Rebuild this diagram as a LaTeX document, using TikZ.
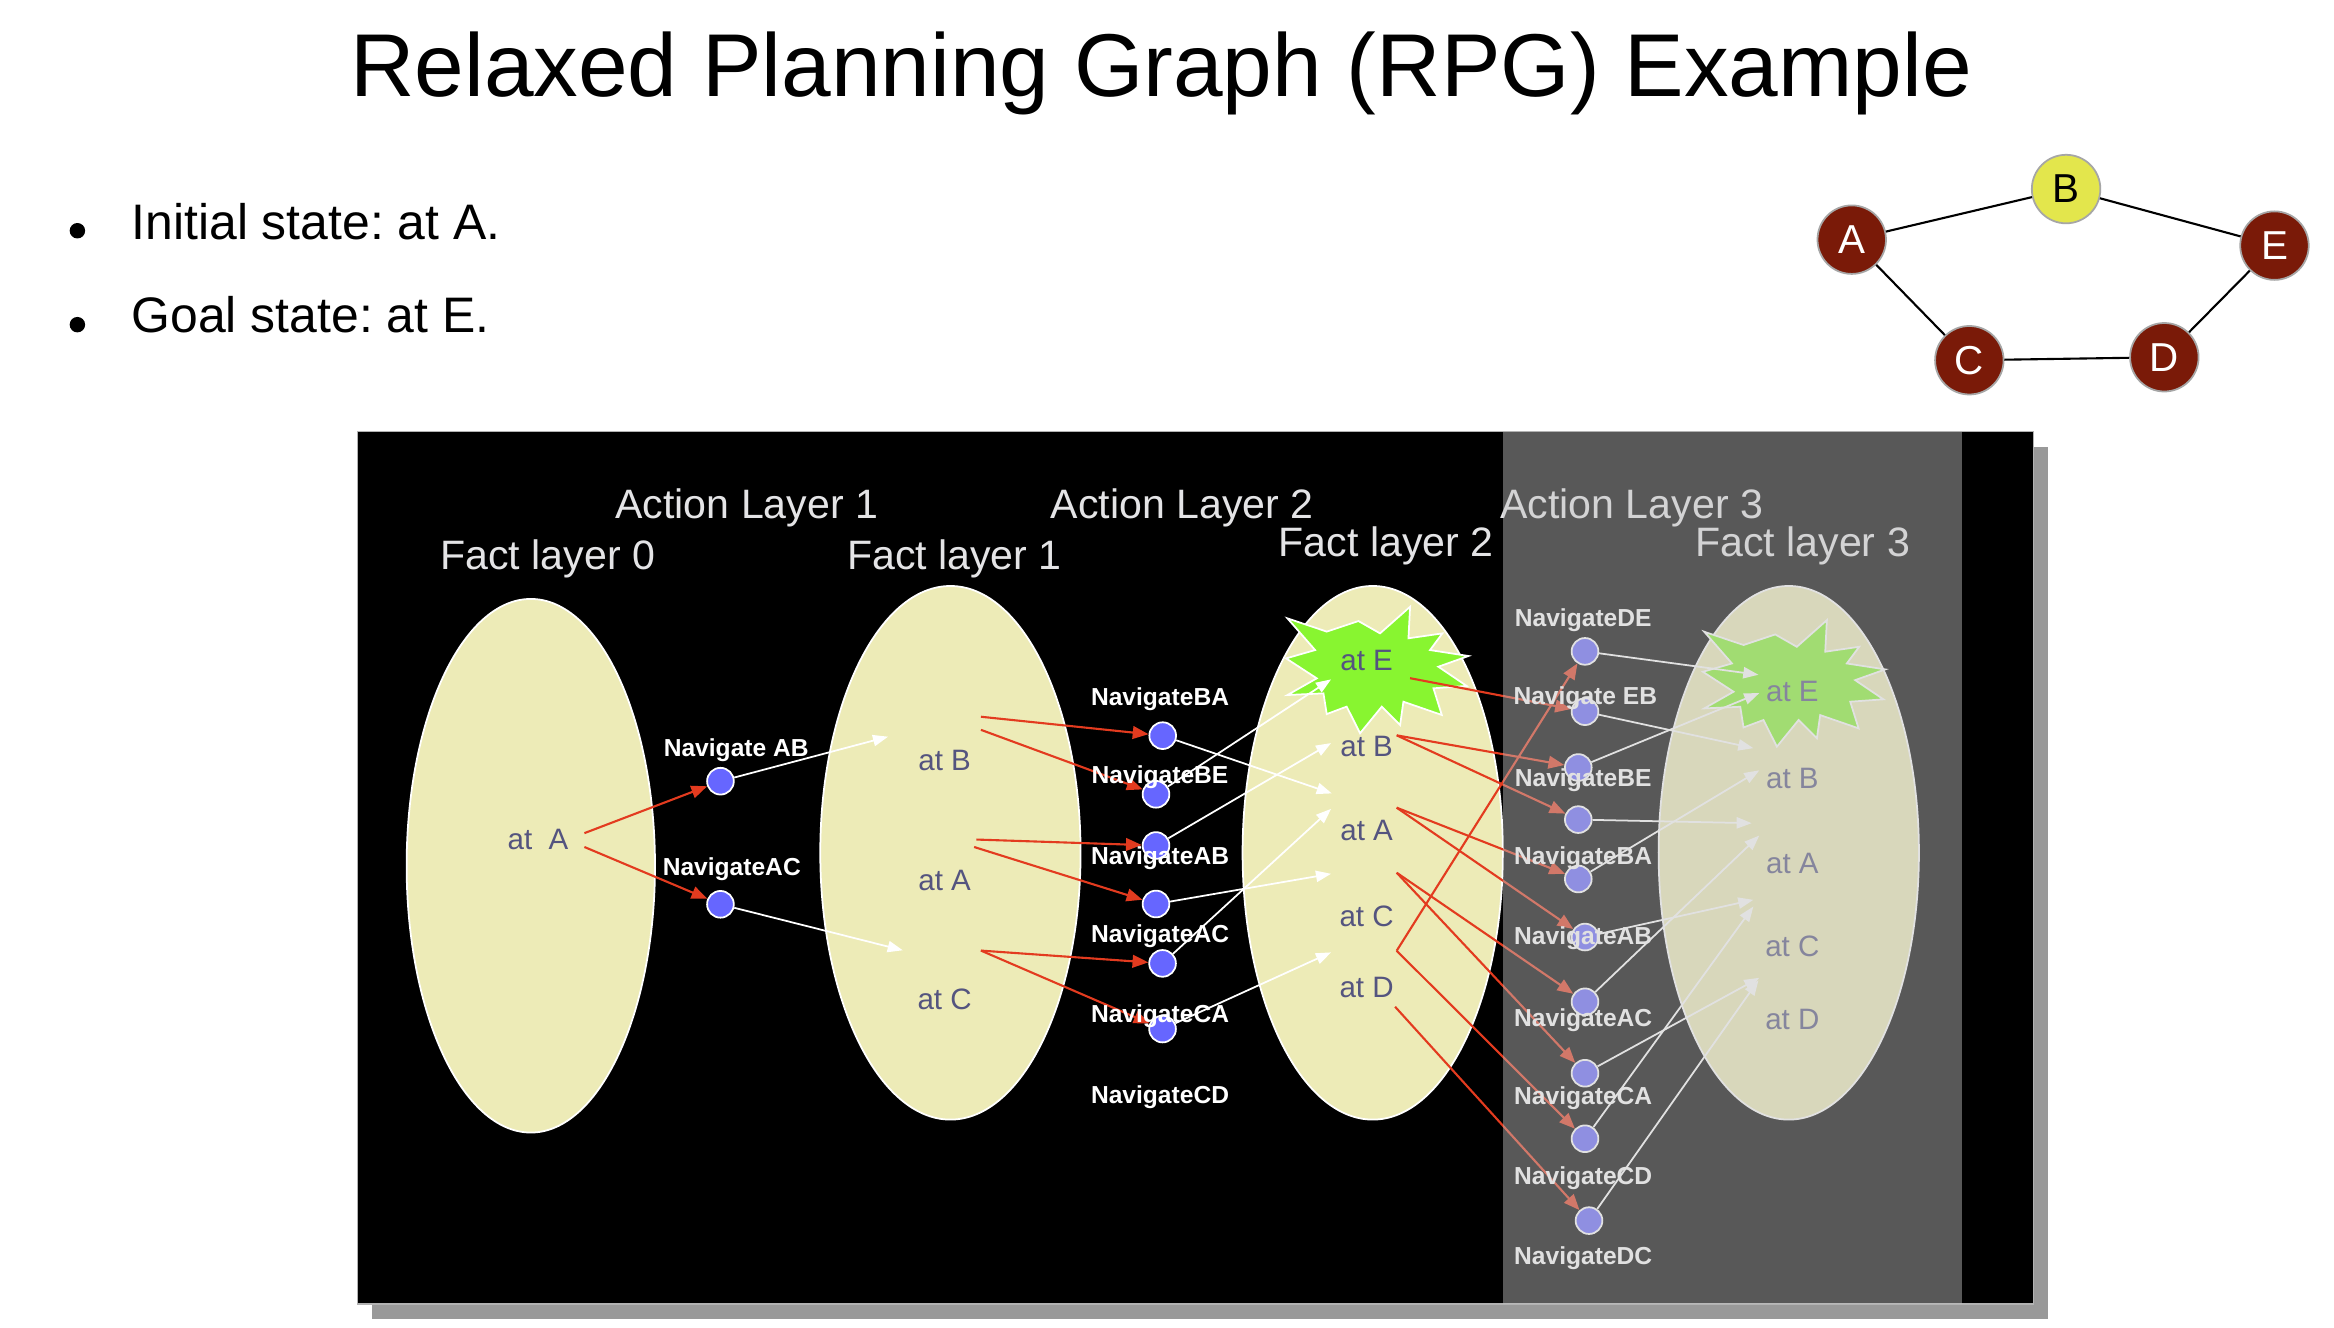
\documentclass[tikz,border=0pt]{standalone}
\usepackage{fontspec}
\setmainfont{Liberation Sans}
\usetikzlibrary{arrows.meta,shapes.geometric}
\frenchspacing
\definecolor{shadowgray}{HTML}{999999}
\definecolor{panelgray}{HTML}{C0C0C0}
\definecolor{factfill}{HTML}{EDEBB7}
\definecolor{facttxt}{HTML}{54547F}
\definecolor{actblue}{HTML}{6666FF}
\definecolor{linkred}{HTML}{E33B1F}
\definecolor{burstgreen}{HTML}{88F530}
\definecolor{citymaroon}{HTML}{7A1A08}
\definecolor{cityyellow}{HTML}{E3E64C}
\definecolor{labelgray}{HTML}{E4E4E6}

\begin{document}
\begin{tikzpicture}[x=0.014885cm,y=-0.014885cm,
    factset/.style={ellipse,draw=white,line width=0.5pt,fill=factfill,minimum width=74.1pt,minimum height=151.9pt,inner sep=0pt},
    facttext/.style={anchor=base,text=facttxt,font=\fontsize{8.4}{10}\selectfont},
    actnode/.style={circle,draw=white,line width=0.5pt,fill=actblue,minimum size=7.6pt,inner sep=0pt},
    actlabel/.style={anchor=base,text=white,font=\bfseries\fontsize{7}{8}\selectfont},
    layerlabel/.style={anchor=base,text=labelgray,font=\fontsize{11.7}{14}\selectfont},
    redarrow/.style={linkred,line width=0.6pt,-{Triangle[length=4.5pt,width=3.6pt]}},
    whitearrow/.style={white,line width=0.5pt,-{Triangle[length=4.3pt,width=3.2pt]}},
    burst/.style={fill=burstgreen,draw=white,line width=0.5pt},
    citynode/.style={circle,draw=gray!70,line width=0.5pt,fill=citymaroon,text=white,minimum size=19.5pt,inner sep=0pt,font=\fontsize{11.5}{13}\selectfont}]
    % page
    \useasboundingbox (0,0) rectangle (1568,892);
    \fill[white] (0,0) rectangle (1568,892);

    % title + bullets
    \node[anchor=base,font=\fontsize{25.4}{30}\selectfont] (title) at (780,65) {Relaxed Planning Graph (RPG) Example};
    \foreach \nm/\y/\txt in {init/160.6/Initial state: at A., goal/223.7/Goal state: at E.} {
      \node[circle,fill=black,minimum size=4.4pt,inner sep=0pt] (\nm-dot) at (52,\y-5.6) {};
      \node[anchor=base west,inner sep=0pt,font=\fontsize{14.2}{17}\selectfont] (\nm) at (88,\y) {\txt};
    }

    % road map
    \foreach \nm/\x/\y in {A/1244/161, C/1323/242, D/1454/240, E/1528/165}
      \node[citynode] (city\nm) at (\x,\y) {\nm};
    \node[citynode,fill=cityyellow,text=black] (cityB) at (1388,127) {B};
    \foreach \a/\b in {A/B, B/E, A/C, C/D, D/E}
      \draw[line width=0.6pt] (city\a) -- (city\b);

    % slide frame
    \fill[shadowgray] (250,300) rectangle (1376,886);
    \filldraw[fill=black,draw=gray!60,line width=0.4pt] (240,290) rectangle (1366,876);

    % layer titles
    \foreach \nm/\x/\y/\txt in {al1/501.7/348.2/Action Layer 1, al2/794.2/348.2/Action Layer 2,
        al3/1096.2/348.2/Action Layer 3, fl0/368/382.5/Fact layer 0, fl1/641.2/382.5/Fact layer 1,
        fl2/931.2/374/Fact layer 2, fl3/1211/374/Fact layer 3}
      \node[layerlabel] (\nm) at (\x,\y) {\txt};

    % fact sets
    \node[factset,minimum width=70.7pt] (set0) at (356.6,581.6) {};
    \foreach \i/\x in {1/638.5, 2/922.2, 3/1201.7}
      \node[factset] (set\i) at (\x,572.9) {};

    % goal bursts
    \foreach \x/\y in {925/450, 1205/459}
      \filldraw[burst,shift={(\x,\y)}] (-60.1,-34.6) -- (-33.7,-25.7) -- (-12.4,-32.8) -- (2.1,-24.5)
        -- (22.3,-42.4) -- (21.2,-21.2) -- (44.0,-24.5) -- (35.7,-13.3) -- (61.5,-9.3) -- (41.3,-2.1)
        -- (60.3,10.8) -- (38.0,12.4) -- (43.6,30.3) -- (17.8,21.4) -- (15.6,37.0) -- (3.3,24.7)
        -- (-11.3,42.6) -- (-20.3,24.7) -- (-33.7,29.7) -- (-35.9,15.8) -- (-60.1,16.9) -- (-40.4,5.7)
        -- (-61.0,-7.7) -- (-41.5,-13.3) -- cycle;

    % facts
    \node[facttext] (f0A) at (361.4,570.5) {at~~A};
    \foreach \nm/\y in {B/517.5, A/598.3, C/678.5}
      \node[facttext] (f1\nm) at (634.6,\y) {at \nm};
    \foreach \nm/\y in {E/450.1, B/508, A/564.6, C/622.4, D/670}
      \node[facttext] (f2\nm) at (918.1,\y) {at \nm};
    \foreach \nm/\y in {E/471.3, B/529.8, A/586.9, C/642.4, D/691.7}
      \node[facttext] (f3\nm) at (1204.1,\y) {at \nm};

    % action layer 1
    \node[actnode] (a1AB) at (484,524.8) {};
    \node[actnode] (a1AC) at (484,607.5) {};
    \coordinate (s0Aa) at (392.6,559.7);
    \coordinate (s0Ab) at (392.6,569);
    \draw[redarrow] (s0Aa) -- (a1AB);
    \draw[redarrow] (s0Ab) -- (a1AC);
    \foreach \nm/\x/\y in {AB/596.6/494.9, AC/606.5/638.4} {
      \coordinate (a1\nm-tip) at (\x,\y);
      \draw[whitearrow] (a1\nm) -- (a1\nm-tip);
    }

    % action layer 2
    \foreach \nm/\x/\y in {BA/781.1/494.2, BE/776.6/533.6, AB/776.6/568, AC/776.6/607.3, CA/781/647.2, CD/781/691.3}
      \node[actnode] (a2\nm) at (\x,\y) {};
    \foreach \nm/\x/\y in {s1Ba/659/481.5, s1Bb/659/490.3, s1Aa/655.9/564, s1Ab/654.4/569, s1C/659/638.6}
      \coordinate (\nm) at (\x,\y);
    \foreach \s/\t in {s1Ba/BA, s1Bb/BE, s1Aa/AB, s1Ab/AC, s1C/CA, s1C/CD}
      \draw[redarrow] (\s) -- (a2\t);
    \foreach \nm/\x/\y in {BA/894.7/533, BE/894.2/456.4, AB/894.2/499.2, AC/894.2/587, CA/894.2/543.4, CD/894.2/639.8} {
      \coordinate (a2\nm-tip) at (\x,\y);
      \draw[whitearrow] (a2\nm) -- (a2\nm-tip);
    }

    % action layer 3
    \foreach \i/\x/\y in {1/1064.8/437.6, 2/1064.8/478.1, 3/1060.3/515.6, 4/1060.3/550.6, 5/1060.3/590.5,
        6/1064.8/629.5, 7/1064.8/673, 8/1064.8/721, 9/1064.8/765, 10/1067.5/820}
      \node[actnode] (a3n\i) at (\x,\y) {};
    \foreach \nm/\x/\y in {s2E/947.3/455.6, s2B/938.3/494, s2A/938.3/542.6, s2C/938.3/586.3, s2V/938.3/638.7, s2D/937.2/676.3}
      \coordinate (\nm) at (\x,\y);
    \foreach \s/\t in {s2E/2, s2B/3, s2B/4, s2A/5, s2A/6, s2C/7, s2C/8, s2V/1, s2V/9, s2D/10}
      \draw[redarrow] (\s) -- (a3n\t);
    \foreach \i/\x/\y in {1/1181.3/453.3, 2/1177.9/502.6, 3/1181.9/465.6, 4/1176.8/553, 5/1181.9/517.5,
        6/1177.9/604.5, 7/1181.9/561.3, 8/1181.9/656.9, 9/1177.9/609, 10/1181.3/658.5} {
      \coordinate (a3n\i-tip) at (\x,\y);
      \draw[whitearrow] (a3n\i) -- (a3n\i-tip);
    }

    % action names
    \foreach \nm/\x/\y/\txt in {l1AB/494.6/508.5/Navigate AB, l1AC/491.6/588.4/NavigateAC,
        l2BA/779.3/473.9/NavigateBA, l2BE/779.3/526.6/NavigateBE, l2AB/779.3/580.8/NavigateAB,
        l2AC/779.3/632.9/NavigateAC, l2CA/779.3/686.9/NavigateCA, l2CD/779.3/741.6/NavigateCD,
        l3DE/1063.6/420.9/NavigateDE, l3EB/1065/473.5/Navigate EB, l3BE/1063.6/528.4/NavigateBE,
        l3BA/1063.6/580.6/NavigateBA, l3AB/1063.6/634.5/NavigateAB, l3AC/1063.6/689.4/NavigateAC,
        l3CA/1063.6/741.9/NavigateCA, l3CD/1063.6/795.9/NavigateCD, l3DC/1063.6/849.3/NavigateDC}
      \node[actlabel] (\nm) at (\x,\y) {\txt};

    % greyed-out third layer
    \fill[panelgray,fill opacity=0.464] (1009.7,290) rectangle (1318.1,876);
\end{tikzpicture}
\end{document}
